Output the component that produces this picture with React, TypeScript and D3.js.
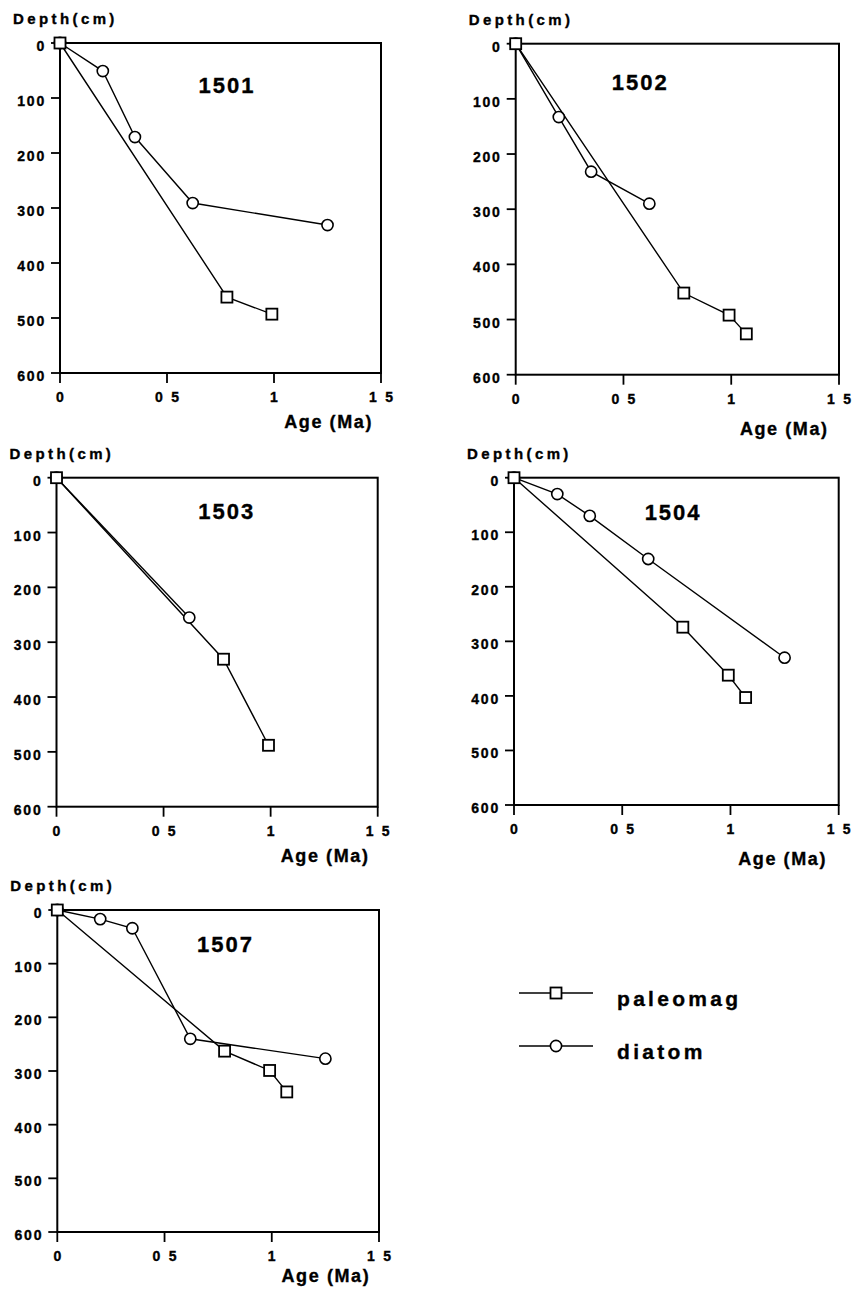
import React from "react";
import * as d3 from "d3";

// ---- data ----
const AGE_TICKS = [0, 0.5, 1, 1.5];
const AGE_TICK_LABELS = ["0", "0 5", "1", "1 5"];
const DEPTH_TICKS = [0, 100, 200, 300, 400, 500, 600];

const CORES = ["1501", "1502", "1503", "1504", "1507"];

const PALEO_1501_AGE = [0, 0.78, 0.99];
const PALEO_1501_DEPTH = [0, 462, 493];
const DIATOM_1501_AGE = [0, 0.2, 0.35, 0.62, 1.25];
const DIATOM_1501_DEPTH = [0, 51, 171, 291, 331];

const PALEO_1502_AGE = [0, 0.78, 0.99, 1.07];
const PALEO_1502_DEPTH = [0, 452, 492, 526];
const DIATOM_1502_AGE = [0, 0.2, 0.35, 0.62];
const DIATOM_1502_DEPTH = [0, 133, 232, 290];

const PALEO_1503_AGE = [0, 0.78, 0.99];
const PALEO_1503_DEPTH = [0, 331, 488];
const DIATOM_1503_AGE = [0, 0.62];
const DIATOM_1503_DEPTH = [0, 255];

const PALEO_1504_AGE = [0, 0.78, 0.99, 1.07];
const PALEO_1504_DEPTH = [0, 274, 362, 403];
const DIATOM_1504_AGE = [0, 0.2, 0.35, 0.62, 1.25];
const DIATOM_1504_DEPTH = [0, 30, 70, 149, 330];

const PALEO_1507_AGE = [0, 0.78, 0.99, 1.07];
const PALEO_1507_DEPTH = [0, 263, 299, 339];
const DIATOM_1507_AGE = [0, 0.2, 0.35, 0.62, 1.25];
const DIATOM_1507_DEPTH = [0, 17, 34, 240, 277];

const SERIES_NAMES = ["paleomag", "diatom"];

// ---- layout ----
const LAYOUT = [
  { x0: 60, y0: 43, w: 321, h: 330, tx: 0.52, ty: 50, ageDy: 55 },
  { x0: 515.7, y0: 43.7, w: 323.3, h: 331, tx: 0.385, ty: 46, ageDy: 60 },
  { x0: 56.5, y0: 477.7, w: 321.2, h: 329, tx: 0.53, ty: 41.5, ageDy: 55 },
  { x0: 514, y0: 477.7, w: 324.7, h: 327.3, tx: 0.49, ty: 41.8, ageDy: 60 },
  { x0: 57.3, y0: 910, w: 321.7, h: 322, tx: 0.523, ty: 41.8, ageDy: 50 },
];

const PANEL_DATA = [
  { paleo: [PALEO_1501_AGE, PALEO_1501_DEPTH], diatom: [DIATOM_1501_AGE, DIATOM_1501_DEPTH] },
  { paleo: [PALEO_1502_AGE, PALEO_1502_DEPTH], diatom: [DIATOM_1502_AGE, DIATOM_1502_DEPTH] },
  { paleo: [PALEO_1503_AGE, PALEO_1503_DEPTH], diatom: [DIATOM_1503_AGE, DIATOM_1503_DEPTH] },
  { paleo: [PALEO_1504_AGE, PALEO_1504_DEPTH], diatom: [DIATOM_1504_AGE, DIATOM_1504_DEPTH] },
  { paleo: [PALEO_1507_AGE, PALEO_1507_DEPTH], diatom: [DIATOM_1507_AGE, DIATOM_1507_DEPTH] },
];

const FONT = "'Liberation Sans', Arial, Helvetica, sans-serif";
const SQ = 11;
const R = 5.6;
const TXT = { fontFamily: FONT, fontWeight: "bold" as const, fill: "#000", stroke: "#000", strokeWidth: 0.35 };

function Panel({ idx }: { idx: number }) {
  const L = LAYOUT[idx];
  const data = PANEL_DATA[idx];
  const x = d3.scaleLinear().domain([0, 1.5]).range([L.x0, L.x0 + L.w]);
  const y = d3.scaleLinear().domain([0, 600]).range([L.y0, L.y0 + L.h]);
  const mk = (ages: number[], depths: number[]) =>
    d3
      .line<number>()
      .x((i) => x(ages[i]))
      .y((i) => y(depths[i]))(d3.range(ages.length)) as string;
  const [pa, pd] = data.paleo;
  const [da, dd] = data.diatom;
  const bottom = y(600);
  return (
    <g>
      <rect x={x(0)} y={y(0)} width={x(1.5) - x(0)} height={bottom - y(0)} fill="none" stroke="#000" strokeWidth={2} />
      {DEPTH_TICKS.map((t) => (
        <g key={"y" + t}>
          <line x1={x(0) - 9} x2={x(0)} y1={y(t)} y2={y(t)} stroke="#000" strokeWidth={1.8} />
          <text x={x(0) - 14} y={y(t) + 8} textAnchor="end" fontSize={14} letterSpacing={1.8} {...TXT}>
            {t}
          </text>
        </g>
      ))}
      {AGE_TICKS.map((t, i) => (
        <g key={"x" + t}>
          <line x1={x(t)} x2={x(t)} y1={bottom} y2={bottom + 10} stroke="#000" strokeWidth={1.8} />
          <text x={x(t) + 1.1} y={bottom + 29} textAnchor="middle" fontSize={14} letterSpacing={2.2} {...TXT}>
            {AGE_TICK_LABELS[i]}
          </text>
        </g>
      ))}
      <text x={x(0) - 47} y={y(0) - 19} fontSize={15} letterSpacing={3.4} {...TXT}>
        Depth(cm)
      </text>
      <text x={x(0) + 313} y={bottom + L.ageDy} textAnchor="end" fontSize={18} letterSpacing={1.6} {...TXT}>
        Age (Ma)
      </text>
      <text x={L.x0 + L.tx * L.w} y={L.y0 + L.ty} textAnchor="middle" fontSize={22} letterSpacing={2} {...TXT}>
        {CORES[idx]}
      </text>
      <path d={mk(pa, pd)} fill="none" stroke="#000" strokeWidth={1.4} />
      <path d={mk(da, dd)} fill="none" stroke="#000" strokeWidth={1.4} />
      {da.map((a, i) => (
        <circle key={"c" + i} cx={x(a)} cy={y(dd[i])} r={R} fill="#fff" stroke="#000" strokeWidth={1.6} />
      ))}
      {pa.map((a, i) => (
        <rect key={"s" + i} x={x(a) - SQ / 2} y={y(pd[i]) - SQ / 2} width={SQ} height={SQ} fill="#fff" stroke="#000" strokeWidth={1.8} />
      ))}
    </g>
  );
}

function Legend() {
  const rows = [
    { y: 993, kind: "square" },
    { y: 1046, kind: "circle" },
  ];
  return (
    <g>
      {rows.map((r, i) => (
        <g key={i}>
          <line x1={519} x2={593} y1={r.y} y2={r.y} stroke="#000" strokeWidth={1.6} />
          {r.kind === "square" ? (
            <rect x={556 - 5.5} y={r.y - 5.5} width={11} height={11} fill="#fff" stroke="#000" strokeWidth={1.8} />
          ) : (
            <circle cx={556} cy={r.y} r={5.6} fill="#fff" stroke="#000" strokeWidth={1.6} />
          )}
          <text x={617} y={r.y + 13} fontSize={21} letterSpacing={3.3} {...TXT}>
            {SERIES_NAMES[i]}
          </text>
        </g>
      ))}
    </g>
  );
}

export default function App() {
  return (
    <svg width={853} height={1289} style={{ position: "absolute", left: 0, top: 0, background: "#fff" }}>
      <rect x={0} y={0} width={853} height={1289} fill="#fff" />
      {LAYOUT.map((_, i) => (
        <Panel key={i} idx={i} />
      ))}
      <Legend />
    </svg>
  );
}
